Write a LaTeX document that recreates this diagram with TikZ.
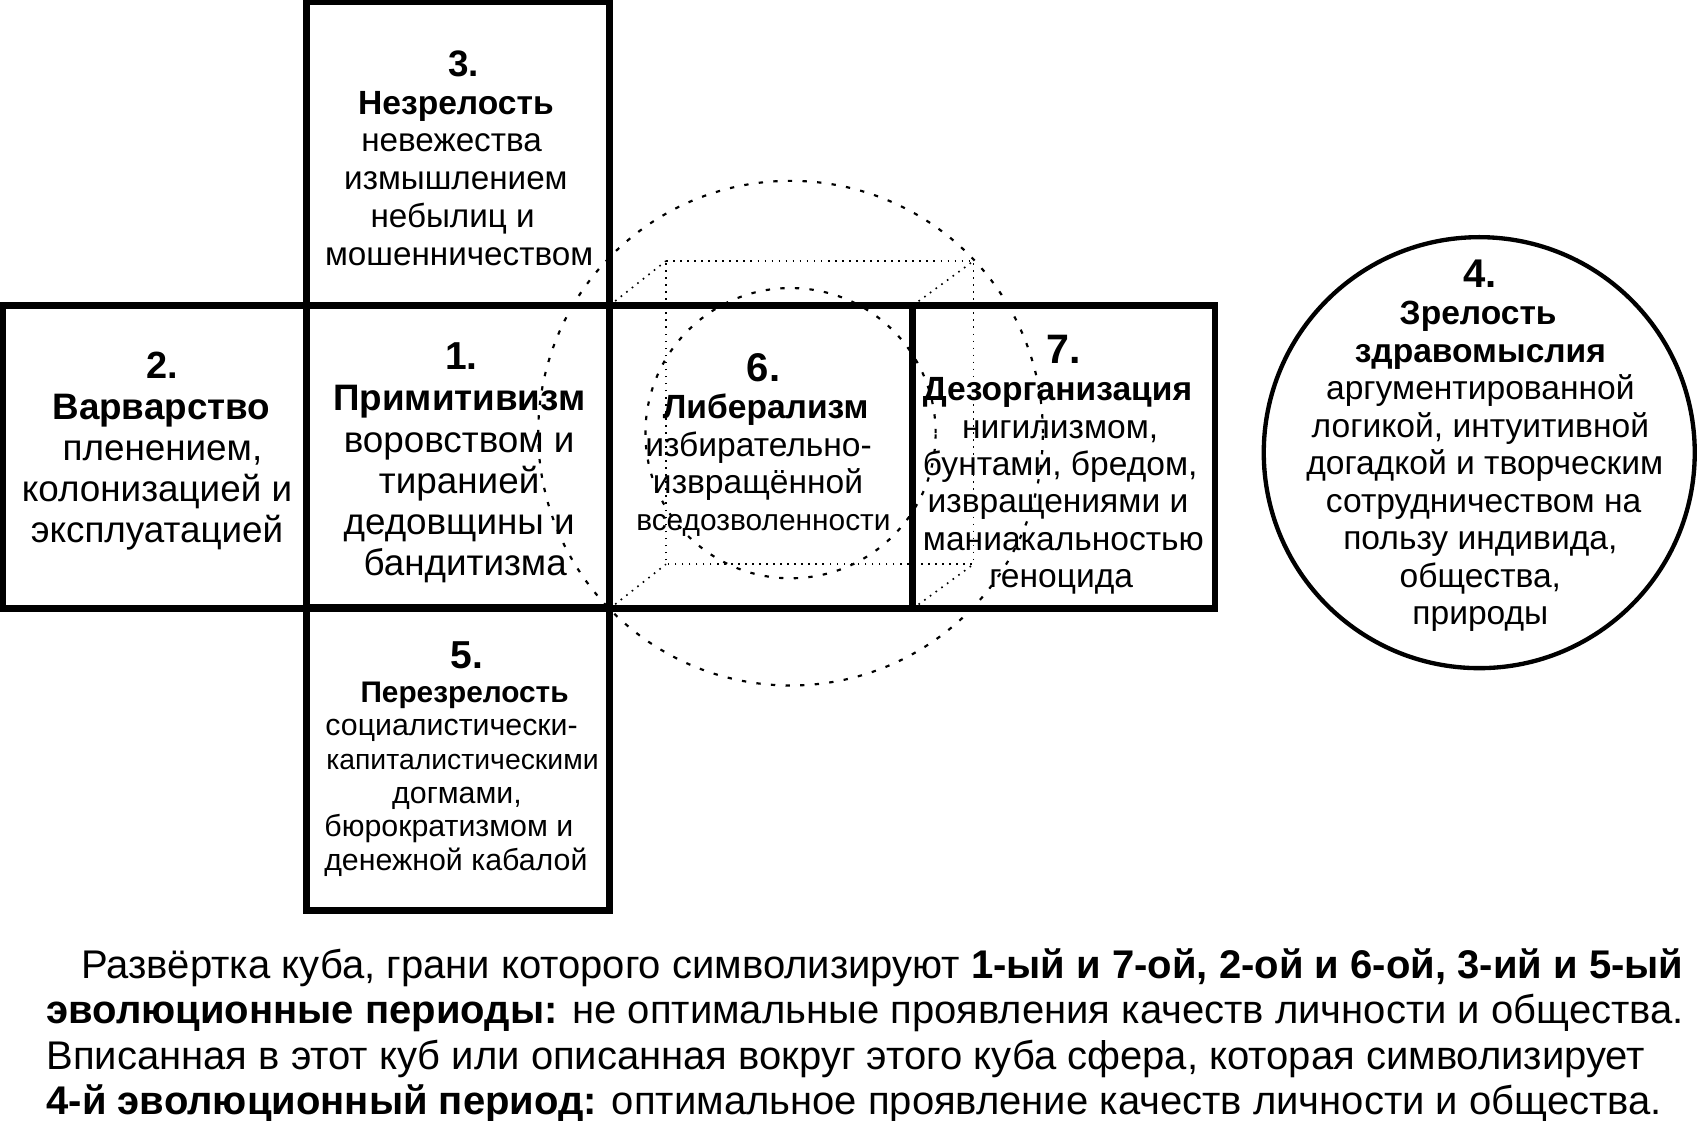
\documentclass[tikz,border=0pt]{standalone}
\usepackage{fontspec}
\setmainfont{Liberation Sans}
\usetikzlibrary{positioning}
\newcommand{\fsize}[2]{\fontsize{#1}{#2}\selectfont}
\newcommand{\padr}[1]{\hbox to #1{}}
\tikzset{
  facebox/.style={draw,line width=6pt,minimum size=280pt,inner sep=0pt,outer sep=0pt},
  spherebox/.style={draw,circle,line width=4pt,minimum size=398pt,inner sep=0pt,outer sep=0pt},
  facetext/.style={align=center,inner sep=0pt,outer sep=0pt},
  edgeline/.style={line width=1.5pt,dash pattern=on 1.5pt off 5pt},
  sphereline/.style={line width=2pt,dash pattern=on 4pt off 9.5pt}
}
\begin{document}
\begin{tikzpicture}[x=1pt,y=-1pt]
        \useasboundingbox (0,0) rectangle (1568,1035);
        \draw[sphereline] (730,400) circle (233pt); % outer sphere
        \draw[sphereline] (730,400) circle (134pt); % inner sphere
        \foreach \name/\x/\y in {f1/423/422,f2/143/422,f3/423/142,f5/423/701,f6/703/422,f7/982/422}
        \node[facebox] (\name) at (\x,\y) {};
        \node[spherebox] (f4) at (1366,418) {};
        % back side of the cube
        \coordinate (bnw) at (615,241);
        \coordinate (bne) at (899,241);
        \coordinate (bse) at (899,521);
        \coordinate (bsw) at (615,521);
        \draw[edgeline] (bnw) -- (bne) -- (bse) -- (bsw) -- cycle;
        \draw[edgeline] (f6.north west) -- (bnw);
        \draw[edgeline] (f6.north east) -- (bne);
        \draw[edgeline] (f6.south west) -- (bsw);
        \draw[edgeline] (f6.south east) -- (bse);
        % texts of the faces
        \node[facetext,font=\fsize{30.7}{34.8}] (t3) at (421,146) {{\bfseries\fsize{34}{36.5}\hspace*{14pt}3.}\\{\bfseries\fsize{31}{34.8}Незрелость}\\невежества\padr{8pt}\\измышлением\\небылиц и\padr{6pt}\\\hspace*{6pt}мошенничеством};
        \node[facetext,font=\fsize{34}{38}] (t1) at (424,427.5) {{\bfseries\fsize{36}{40}\hspace*{4pt}1.}\\{\bfseries Примитивизм}\\воровством и\\тиранией\\дедовщины и\\\hspace*{11pt}бандитизма};
        \node[facetext,font=\fsize{34}{38}] (t2) at (145,416.5) {{\bfseries\fsize{35}{40} 2.}\\{\bfseries \hspace*{8pt}Варварство}\\\hspace*{10pt}пленением,\\колонизацией и\\эксплуатацией};
        \node[facetext,font=\fsize{28}{31}] (t5) at (425,701) {{\bfseries\fsize{36}{35}\hspace*{12pt}5.}\\{\bfseries\fsize{27.5}{31}\hspace*{8pt}Перезрелость}\\социалистически-\padr{16pt}\\{\fsize{26.2}{31}\hspace*{4pt}капиталистическими}\\догмами,\padr{6pt}\\бюрократизмом и\padr{21pt}\\денежной кабалой\padr{8pt}};
        \node[facetext,font=\fsize{31}{34.5}] (t6) at (705,411) {{\bfseries\fsize{37}{40}6.}\\{\bfseries \hspace*{4pt}Либерализм}\\избирательно-\padr{9pt}\\извращённой\padr{10pt}\\{\fsize{27.6}{34.5}вседозволенности}};
        \node[facetext,font=\fsize{31}{34.5}] (t7) at (982,429) {{\bfseries\fsize{38}{38}7.}\\{\bfseries Дезорганизация\padr{11pt}}\\нигилизмом,\padr{6pt}\\бунтами, бредом,\padr{6pt}\\извращениями и\padr{10pt}\\маниакальностью\\геноцида\padr{4pt}};
        \node[facetext,font=\fsize{31}{34.6}] (t4) at (1367,411.5) {{\bfseries\fsize{37}{37}4.}\\{\bfseries Зрелость\padr{4pt}}\\{\bfseries здравомыслия}\\аргументированной\\логикой, интуитивной\\\hspace*{8pt}догадкой и творческим\\\hspace*{6pt}сотрудничеством на\\пользу индивида,\\общества,\\природы};
        % caption under the cube
        \node[align=left,inner sep=0pt,outer sep=0pt,anchor=north west,font=\fsize{36.95}{42}] (note) at (43,876) {\hspace*{32pt}Развёртка куба, грани которого символизируют {\bfseries 1-ый и 7-ой, 2-ой и 6-ой, 3-ий и 5-ый}\\{\bfseries эволюционные периоды:} не оптимальные проявления качеств личности и общества.\\Вписанная в этот куб или описанная вокруг этого куба сфера, которая символизирует\\{\bfseries 4-й эволюционный период:} оптимальное проявление качеств личности и общества.};
    \end{tikzpicture}
\end{document}
